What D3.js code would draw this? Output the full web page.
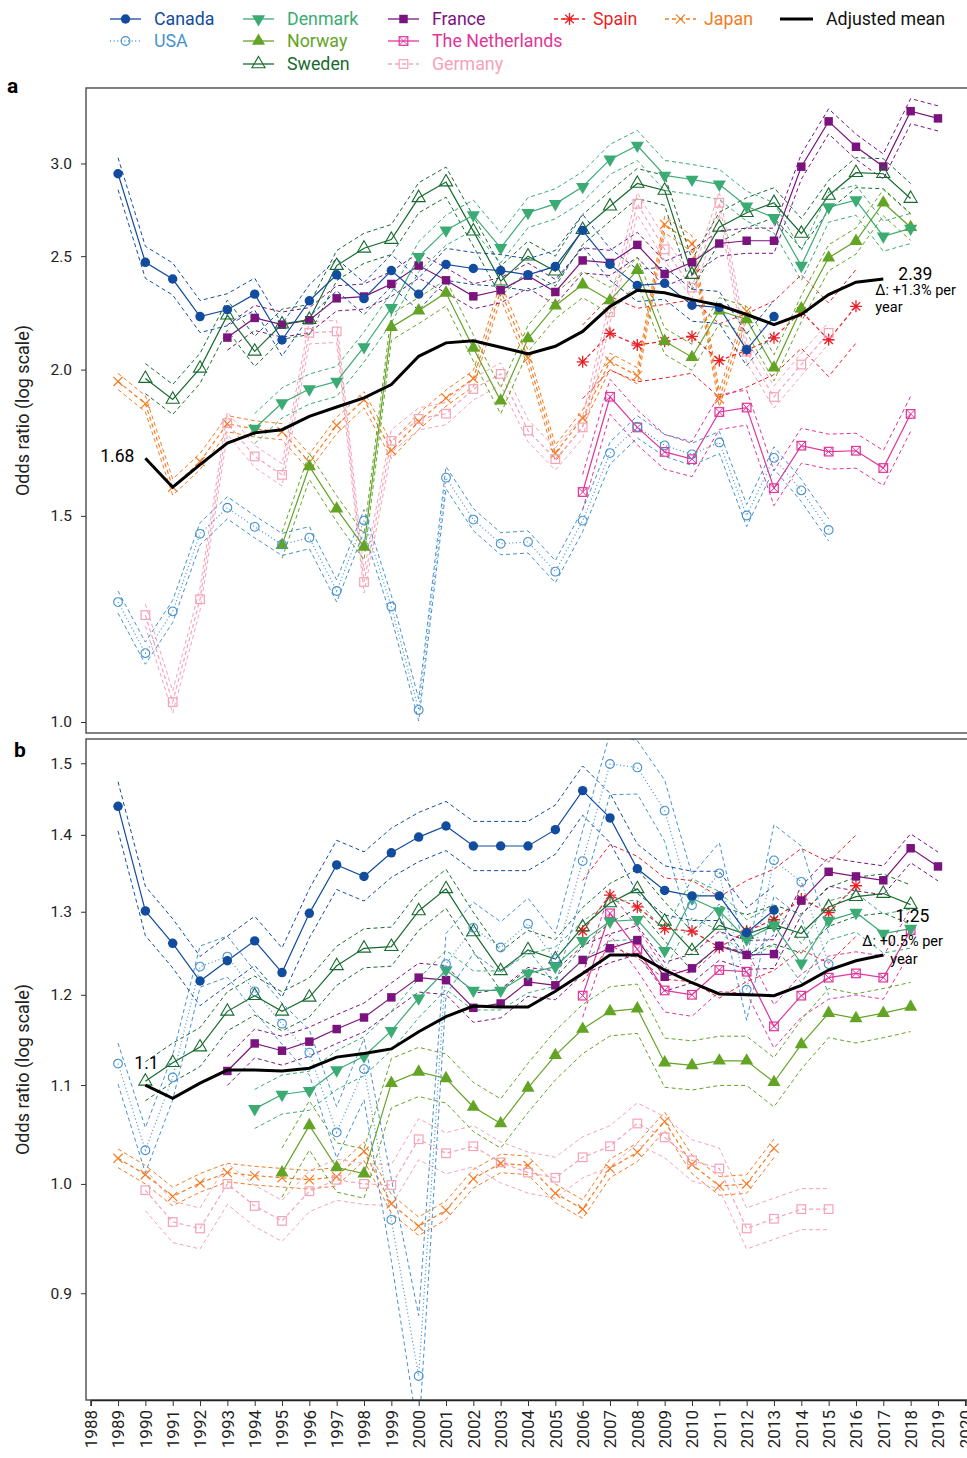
<!DOCTYPE html>
<html>
<head>
<meta charset="utf-8">
<script src="https://cdn.jsdelivr.net/npm/d3@7"></script>
<style>
  body { margin: 0; background: #fff; }
  text { font-family: Roboto, "Liberation Sans", sans-serif; }
</style>
</head>
<body>
<div class="chart"></div>
<script>
// ---- data ----
const years = d3.range(1988, 2021);   // x tick labels
const countries = ["Canada", "USA", "Denmark", "Norway", "Sweden", "France", "The Netherlands", "Germany", "Spain", "Japan"];
const firstYear = [1989, 1989, 1994, 1995, 1990, 1993, 2006, 1990, 2006, 1989];
const ticksA = [1.0, 1.5, 2.0, 2.5, 3.0];
const ticksB = [0.9, 1.0, 1.1, 1.2, 1.3, 1.4, 1.5];

// panel a
const canadaA = [2.94,2.47,2.39,2.22,2.25,2.32,2.12,2.29,2.41,2.30,2.43,2.32,2.46,2.44,2.43,2.41,2.45,2.63,2.46,2.36,2.37,2.27,2.26,2.08,2.22];
const usaA = [1.266,1.145,1.243,1.448,1.524,1.468,1.418,1.437,1.294,1.486,1.255,1.024,1.617,1.489,1.420,1.425,1.344,1.486,1.697,1.787,1.723,1.693,1.733,1.501,1.681,1.577,1.459];
const denmarkA = [1.781,1.873,1.925,1.954,2.091,2.258,2.497,2.631,2.710,2.541,2.723,2.771,2.866,3.024,3.108,2.930,2.907,2.879,2.758,2.696,2.454,2.753,2.791,2.600,2.640];
const norwayA = [1.416,1.653,1.521,1.411,2.174,2.246,2.326,2.087,1.881,2.126,2.268,2.364,2.291,2.432,2.115,2.049,2.246,2.207,2.007,2.255,2.492,2.575,2.777,2.646];
const swedenA = [1.965,1.886,2.005,2.226,2.073,2.187,2.207,2.454,2.539,2.583,2.804,2.892,2.626,2.380,2.500,2.427,2.634,2.758,2.884,2.845,2.411,2.646,2.723,2.777,2.614,2.817,2.946,2.940,2.800];
const franceA = [2.130,2.214,2.185,2.204,2.301,2.309,2.367,2.454,2.384,2.310,2.338,2.406,2.330,2.479,2.467,2.556,2.414,2.470,2.563,2.577,2.577,2.981,3.259,3.100,2.982,3.325,3.278];
const netherlandsA = [1.572,1.896,1.785,1.701,1.677,1.840,1.856,1.584,1.722,1.702,1.705,1.648,1.833];
const germanyA = [1.234,1.040,1.273,1.800,1.686,1.626,2.150,2.156,1.317,1.738,1.815,1.834,1.925,1.983,1.774,1.677,1.785,2.239,2.771,2.534,2.350,2.777,2.072,1.895,2.020,2.150];
const spainA = [2.031,2.148,2.099,2.115,2.135,2.036,2.077,2.129,2.242,2.121,2.265];
const japanA = [1.954,1.870,1.587,1.669,1.798,1.780,1.770,1.667,1.792,1.885,1.706,1.806,1.891,1.965,2.336,2.046,1.697,1.818,2.033,1.976,2.661,2.561,1.888,2.243];
const meanA = [1.68,1.587,1.659,1.731,1.766,1.777,1.824,1.858,1.892,1.942,2.053,2.108,2.117,2.090,2.063,2.094,2.156,2.265,2.338,2.326,2.295,2.270,2.229,2.185,2.229,2.318,2.375,2.39];
// multiplicative half-width of the confidence bands
const ciA = [1.032, 1.022, 1.03, 1.026, 1.03, 1.025, 1.035, 1.022, 1.075, 1.016];

// panel b
const canadaB = [1.439,1.301,1.261,1.216,1.240,1.264,1.226,1.298,1.360,1.345,1.376,1.397,1.412,1.385,1.385,1.385,1.407,1.461,1.423,1.355,1.327,1.320,1.320,1.274,1.302];
const usaB = [1.123,1.033,1.108,1.233,1.245,1.204,1.167,1.135,1.051,1.117,0.966,0.831,1.236,1.280,1.256,1.285,1.242,1.365,1.499,1.494,1.433,1.308,1.349,1.206,1.366,1.338,1.236];
const denmarkB = [1.075,1.090,1.094,1.116,1.131,1.159,1.196,1.229,1.205,1.205,1.225,1.233,1.264,1.288,1.290,1.252,1.317,1.301,1.266,1.283,1.237,1.289,1.299,1.273,1.279];
const norwayB = [1.011,1.058,1.016,1.010,1.102,1.114,1.107,1.077,1.060,1.097,1.132,1.161,1.181,1.184,1.124,1.121,1.126,1.126,1.103,1.144,1.179,1.173,1.179,1.186];
const swedenB = [1.104,1.124,1.141,1.181,1.199,1.181,1.197,1.234,1.255,1.257,1.301,1.329,1.275,1.228,1.253,1.242,1.281,1.311,1.329,1.288,1.252,1.283,1.272,1.284,1.273,1.306,1.319,1.323,1.309];
const franceB = [1.115,1.145,1.137,1.147,1.161,1.174,1.197,1.220,1.217,1.185,1.190,1.215,1.211,1.241,1.255,1.265,1.221,1.231,1.258,1.247,1.248,1.314,1.351,1.345,1.340,1.382,1.358];
const netherlandsB = [1.199,1.298,1.254,1.205,1.200,1.229,1.227,1.164,1.199,1.220,1.225,1.220,1.277];
const germanyB = [0.994,0.964,0.958,1.000,0.979,0.965,0.993,1.004,1.000,0.999,1.044,1.030,1.037,1.021,1.011,1.006,1.026,1.037,1.060,1.046,1.023,1.015,0.958,0.967,0.976,0.976];
const spainB = [1.276,1.321,1.306,1.279,1.276,1.256,1.276,1.290,1.316,1.299,1.333];
const japanB = [1.025,1.009,0.988,1.001,1.011,1.008,1.006,1.004,1.007,1.032,0.981,0.960,0.975,1.005,1.020,1.018,0.991,0.976,1.015,1.031,1.062,1.019,0.998,1.000,1.035];
const meanB = [1.100,1.086,1.102,1.116,1.116,1.115,1.118,1.130,1.134,1.139,1.158,1.175,1.187,1.186,1.186,1.204,1.225,1.247,1.247,1.229,1.214,1.201,1.200,1.199,1.211,1.229,1.240,1.247];
const ciB = [1.024, 1.022, 1.019, 1.024, 1.019, 1.014, 1.021, 1.02, 1.05, 1.009];
const usaCiB = [1.02,1.022,1.022,1.02,1.02,1.02,1.02,1.022,1.025,1.03,1.04,1.06,1.03,1.025,1.025,1.025,1.025,1.03,1.03,1.026,1.03,1.03,1.03,1.03,1.035,1.035,1.03];

const seriesA = [canadaA, usaA, denmarkA, norwayA, swedenA, franceA, netherlandsA, germanyA, spainA, japanA];
const seriesB = [canadaB, usaB, denmarkB, norwayB, swedenB, franceB, netherlandsB, germanyB, spainB, japanB];

// ---- styles ----
const colors = ["#124c9e", "#4592cf", "#3bab74", "#63a425", "#176b2e", "#7b137f", "#e0359a", "#f6a2b8", "#ec1f26", "#f57b22"];
const markers = ["dot", "ring", "tridown", "triup", "triopen", "square", "boxx", "boxopen", "star", "cross"];
const mainDash = [null, "1,2.6", null, null, null, null, null, "4,3", "4,3", "4,3"];

const W = 967, H = 1458;
const svg = d3.select(".chart").append("svg")
  .attr("width", W)
  .attr("height", H);

const x = d3.scaleLinear().domain([1988, 2020]).range([90.7, 965.3]);
const yA = d3.scaleLog().domain([0.9786, 3.48]).range([733, 88]);
const yB = d3.scaleLog().domain([0.812, 1.5355]).range([1400, 739]);

function marker(g, kind, color, cx, cy) {
  const sym = (type, size) => g.append("path")
    .attr("d", d3.symbol().type(type).size(size)())
    .attr("transform", `translate(${cx},${cy})`);
  if (kind == "dot") {
    sym(d3.symbolCircle, 70).attr("fill", color);
  } else if (kind == "ring") {
    sym(d3.symbolCircle, 60).attr("fill", "none").attr("stroke", color).attr("stroke-width", 1.1);
  } else if (kind == "triup") {
    sym(d3.symbolTriangle, 75).attr("fill", color);
  } else if (kind == "tridown") {
    sym(d3.symbolTriangle, 75).attr("fill", color)
      .attr("transform", `translate(${cx},${cy}) rotate(180)`);
  } else if (kind == "triopen") {
    sym(d3.symbolTriangle, 75).attr("fill", "none").attr("stroke", color).attr("stroke-width", 1.1);
  } else if (kind == "square") {
    sym(d3.symbolSquare, 72).attr("fill", color);
  } else if (kind == "boxopen" || kind == "boxx") {
    const s = 4.3;
    g.append("rect").attr("x", cx - s).attr("y", cy - s).attr("width", 2 * s).attr("height", 2 * s)
      .attr("fill", "none").attr("stroke", color).attr("stroke-width", 1.2);
    if (kind == "boxx") {
      g.append("path").attr("d", `M${cx - s},${cy - s}L${cx + s},${cy + s}M${cx - s},${cy + s}L${cx + s},${cy - s}`)
        .attr("stroke", color).attr("stroke-width", 1);
    }
  } else if (kind == "star") {
    const r = 6;
    let p = "";
    [0, 45, 90, 135].forEach(a => {
      const dx = r * Math.cos(a * Math.PI / 180), dy = r * Math.sin(a * Math.PI / 180);
      p += `M${cx - dx},${cy - dy}L${cx + dx},${cy + dy}`;
    });
    g.append("path").attr("d", p).attr("stroke", color).attr("stroke-width", 1.3);
  } else if (kind == "cross") {
    const r = 4.6;
    g.append("path").attr("d", `M${cx - r},${cy - r}L${cx + r},${cy + r}M${cx - r},${cy + r}L${cx + r},${cy - r}`)
      .attr("stroke", color).attr("stroke-width", 1.2);
  }
}

function drawPanel(opts) {
  const { y, top, bottom, series, ci, mean, ticks, id } = opts;
  const g = svg.append("g");

  g.append("clipPath").attr("id", id)
    .append("rect").attr("x", 86).attr("y", top).attr("width", 900).attr("height", bottom - top);

  const plot = g.append("g");
  const lines = plot.append("g").attr("clip-path", `url(#${id})`);

  const line = d3.line()
    .x(d => x(d.year))
    .y(d => y(d.v));

  // draw back to front so Canada ends on top
  for (let i = series.length - 1; i >= 0; i--) {
    const pts = series[i].map((v, k) => {
      const c = Array.isArray(ci[i]) ? ci[i][k] : ci[i];
      return { year: firstYear[i] + k, v: v, lo: v / c, hi: v * c };
    });
    const col = colors[i];
    ["lo", "hi"].forEach(key => {
      lines.append("path")
        .datum(pts.map(d => ({ year: d.year, v: d[key] })))
        .attr("d", line)
        .attr("fill", "none")
        .attr("stroke", col)
        .attr("stroke-width", 1)
        .attr("stroke-dasharray", "4,3");
    });
    lines.append("path")
      .datum(pts)
      .attr("d", line)
      .attr("fill", "none")
      .attr("stroke", col)
      .attr("stroke-width", 1.2)
      .attr("stroke-dasharray", mainDash[i]);
    pts.forEach(d => marker(plot, markers[i], col, x(d.year), y(d.v)));
  }

  plot.append("path")
    .datum(mean.map((v, k) => ({ year: 1990 + k, v: v })))
    .attr("d", line)
    .attr("fill", "none")
    .attr("stroke", "#000")
    .attr("stroke-width", 3);

  // frame
  g.append("rect")
    .attr("x", 86).attr("y", top).attr("width", 900).attr("height", bottom - top)
    .attr("fill", "none").attr("stroke", "#4a4a4a").attr("stroke-width", 1.4);

  const yAxis = d3.axisLeft(y)
    .tickValues(ticks)
    .tickFormat(d3.format(".1f"))
    .tickSize(5)
    .tickPadding(9);
  const ax = g.append("g").attr("transform", "translate(86,0)").call(yAxis);
  ax.select(".domain").remove();
  ax.selectAll("text").attr("font-size", 15.5).attr("fill", "#222")
    .style("font-family", "Roboto, sans-serif");
  ax.selectAll("line").attr("stroke", "#333");

  g.append("text")
    .attr("transform", `translate(29,${(top + bottom) / 2}) rotate(-90)`)
    .attr("text-anchor", "middle")
    .attr("font-size", 18)
    .attr("fill", "#222")
    .text("Odds ratio  (log scale)");
  return g;
}

const gA = drawPanel({ y: yA, top: 88, bottom: 733, series: seriesA, ci: ciA, mean: meanA, ticks: ticksA, id: "clipA" });
const ciBfull = ciB.slice(); ciBfull[1] = usaCiB;
const gB = drawPanel({ y: yB, top: 739, bottom: 1400, series: seriesB, ci: ciBfull, mean: meanB, ticks: ticksB, id: "clipB" });

// mean annotations
gA.append("text").attr("x", x(1990) - 11).attr("y", yA(meanA[0]) + 4)
  .attr("text-anchor", "end").attr("font-size", 17.5).text("1.68");
gA.append("text").attr("x", x(2017) + 15).attr("y", yA(2.39) + 1)
  .attr("font-size", 17.5).text("2.39");
gA.append("text").attr("x", x(2017) - 8).attr("y", yA(2.39) + 16)
  .attr("font-size", 14.5).text("Δ: +1.3% per");
gA.append("text").attr("x", x(2017) - 8).attr("y", yA(2.39) + 33)
  .attr("font-size", 14.5).text("year");

gB.append("text").attr("x", x(1990) - 11).attr("y", yB(1.1) - 16)
  .attr("font-size", 17.5).text("1.1");
gB.append("text").attr("x", x(2017) + 12).attr("y", yB(1.247) - 33)
  .attr("font-size", 17.5).text("1.25");
gB.append("text").attr("x", x(2017) - 21).attr("y", yB(1.247) - 9)
  .attr("font-size", 14.5).text("Δ: +0.5% per");
gB.append("text").attr("x", x(2017) + 7).attr("y", yB(1.247) + 9)
  .attr("font-size", 14.5).text("year");

// panel letters
svg.append("text").attr("x", 7).attr("y", 93).attr("font-size", 21).attr("font-weight", "bold").text("a");
svg.append("text").attr("x", 14).attr("y", 757).attr("font-size", 21).attr("font-weight", "bold").text("b");

// x axis
const xAxis = d3.axisBottom(x).tickValues(years).tickFormat(d3.format("d")).tickSize(6).tickPadding(4);
const xg = svg.append("g").attr("transform", "translate(0,1400)").call(xAxis);
xg.select(".domain").attr("stroke", "#222").attr("stroke-width", 1.6);
xg.selectAll("line").attr("stroke", "#333");
xg.selectAll("text")
  .attr("font-size", 17)
  .attr("fill", "#222")
  .style("font-family", "Roboto, sans-serif")
  .attr("text-anchor", "end")
  .attr("dy", "0.35em")
  .attr("transform", "translate(0,10) rotate(-90)")
  .attr("x", 0).attr("y", 0);

// legend
const legendPos = [
  [110, 19], [110, 41], [243, 19], [243, 41], [243, 64],
  [388, 19], [388, 41], [388, 64], [554, 19], [665, 19]
];
const legend = svg.append("g");
countries.forEach((name, i) => {
  const [lx, ly] = legendPos[i];
  legend.append("line")
    .attr("x1", lx).attr("x2", lx + 31).attr("y1", ly).attr("y2", ly)
    .attr("stroke", colors[i]).attr("stroke-width", 1.3)
    .attr("stroke-dasharray", mainDash[i]);
  marker(legend, markers[i], colors[i], lx + 15.5, ly);
  legend.append("text")
    .attr("x", lx + (i >= 8 ? 39 : 44)).attr("y", ly + 6)
    .attr("font-size", 17.8)
    .attr("fill", colors[i])
    .text(name);
});
legend.append("line").attr("x1", 780).attr("x2", 813).attr("y1", 19).attr("y2", 19)
  .attr("stroke", "#000").attr("stroke-width", 3);
legend.append("text").attr("x", 826).attr("y", 25).attr("font-size", 17.8).attr("fill", "#111").text("Adjusted mean");
</script>
</body>
</html>
